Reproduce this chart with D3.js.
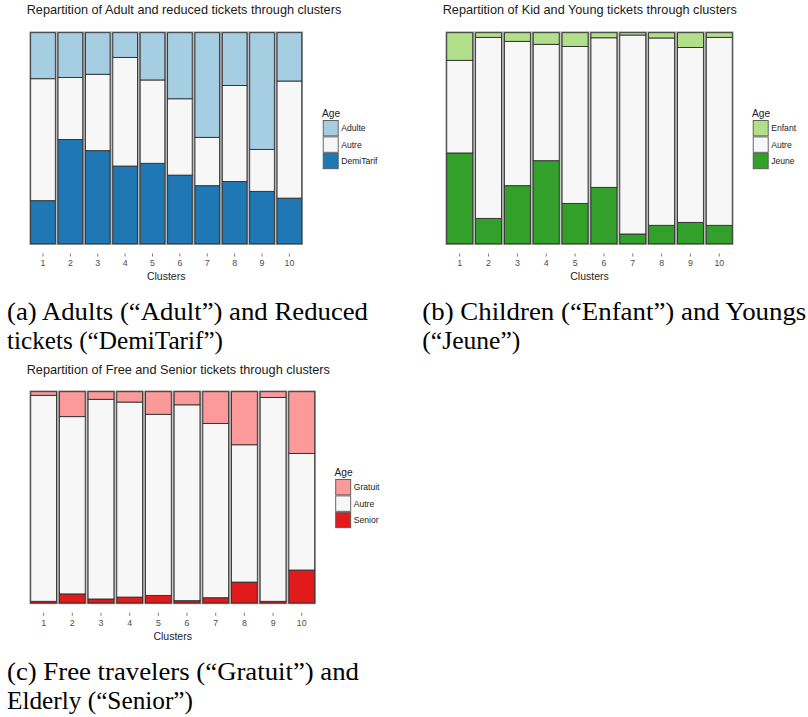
<!DOCTYPE html>
<html>
<head>
<meta charset="utf-8">
<script src="https://cdn.jsdelivr.net/npm/d3@7"></script>
<style>
  body { margin: 0; background: #fff; }
  svg { display: block; }
</style>
</head>
<body>
<svg id="chart" width="808" height="717"></svg>
<script>
// clusters on the x axis
var clusters = ["1", "2", "3", "4", "5", "6", "7", "8", "9", "10"];

// (a) adults / reduced tickets, share in %
var adulte    = [21.8, 21.2, 19.7, 11.7, 22.4, 31.3, 49.6, 25.0, 55.3, 22.9];
var autreA    = [57.8, 29.4, 36.2, 51.5, 39.5, 36.2, 22.9, 45.5, 19.9, 55.5];
var demiTarif = [20.4, 49.4, 44.1, 36.8, 38.1, 32.5, 27.5, 29.5, 24.8, 21.6];

// (b) kids / young
var enfant = [13.1, 2.2, 4.1, 5.5, 6.5, 2.4, 1.1, 2.5, 7.0, 2.2];
var autreB = [43.9, 85.8, 68.4, 55.1, 74.4, 70.9, 94.3, 88.8, 82.9, 89.1];
var jeune  = [43.0, 12.0, 27.5, 39.3, 19.1, 26.7, 4.6, 8.7, 10.1, 8.7];

// (c) free / senior
var gratuit = [1.7, 11.8, 3.6, 4.9, 10.7, 6.2, 15.0, 25.1, 2.7, 29.2];
var autreC  = [97.5, 83.9, 94.5, 92.3, 85.6, 92.7, 82.5, 65.0, 96.5, 55.2];
var senior  = [0.8, 4.3, 1.9, 2.8, 3.6, 1.1, 2.5, 9.9, 0.8, 15.6];

var svg = d3.select("#chart");

var panels = [
    {
        title: "Repartition of Adult and reduced tickets through clusters",
        keys: ["DemiTarif", "Autre", "Adulte"],
        series: [demiTarif, autreA, adulte],
        colors: ["#1f78b4", "#f7f7f7", "#a6cee3"],
        x0: 29.3, x1: 303.1, top: 32.7, bottom: 243.7,
        titleX: 26.7, titleY: 14, legX: 322, legY: 116.5, keyY: 120.5
    },
    {
        title: "Repartition of Kid and Young tickets through clusters",
        keys: ["Jeune", "Autre", "Enfant"],
        series: [jeune, autreB, enfant],
        colors: ["#33a02c", "#f7f7f7", "#b2df8a"],
        x0: 445.3, x1: 733.7, top: 32.7, bottom: 243.7,
        titleX: 442.7, titleY: 14, legX: 752, legY: 116.5, keyY: 120.5
    },
    {
        title: "Repartition of Free and Senior tickets through clusters",
        keys: ["Senior", "Autre", "Gratuit"],
        series: [senior, autreC, gratuit],
        colors: ["#e31a1c", "#f7f7f7", "#fb9a99"],
        x0: 29.3, x1: 316.1, top: 391.7, bottom: 603,
        titleX: 26.7, titleY: 373.5, legX: 334.5, legY: 475.5, keyY: 479.5
    }
];

panels.forEach(drawPanel);

function drawPanel(p) {
    var g = svg.append("g");

    // rows for d3.stack
    var rows = clusters.map(function (c, i) {
        var r = { cluster: c };
        p.keys.forEach(function (k, j) { r[k] = p.series[j][i]; });
        return r;
    });

    var stack = d3.stack().keys(p.keys).offset(d3.stackOffsetExpand);
    var layers = stack(rows);

    var x = d3.scaleBand().domain(clusters)
        .range([p.x0, p.x1])
        .paddingInner(0.1).paddingOuter(0.05);
    var y = d3.scaleLinear().domain([0, 1]).range([p.bottom, p.top]);
    var color = d3.scaleOrdinal().domain(p.keys).range(p.colors);

    g.append("text")
        .attr("x", p.titleX).attr("y", p.titleY)
        .style("font", "12.7px 'Liberation Sans', Arial, sans-serif")
        .style("fill", "#1a1a1a")
        .text(p.title);

    // outer grey outline of each bar
    g.append("g").selectAll("rect")
        .data(clusters).enter().append("rect")
        .attr("x", function (d) { return x(d) - 0.6; })
        .attr("y", p.top - 0.6)
        .attr("width", x.bandwidth() + 1.2)
        .attr("height", p.bottom - p.top + 1.2)
        .attr("fill", "none")
        .attr("stroke", "#8c8c8c")
        .attr("stroke-width", 1.2);

    g.append("g").selectAll("g")
        .data(layers).enter().append("g")
        .attr("fill", function (d) { return color(d.key); })
        .selectAll("rect")
        .data(function (d) { return d; }).enter().append("rect")
        .attr("x", function (d) { return x(d.data.cluster); })
        .attr("y", function (d) { return y(d[1]); })
        .attr("width", x.bandwidth())
        .attr("height", function (d) { return y(d[0]) - y(d[1]); })
        .attr("stroke", "#2e2e2e")
        .attr("stroke-width", 0.9);

    // x axis
    var axis = g.append("g")
        .attr("transform", "translate(0," + (p.bottom + 9.8) + ")")
        .call(d3.axisBottom(x).tickSize(3).tickPadding(3.5));
    axis.select(".domain").remove();
    axis.selectAll(".tick line").attr("stroke", "#7a7a7a");
    axis.selectAll(".tick text")
        .style("font", "8.8px 'Liberation Sans', Arial, sans-serif")
        .style("fill", "#4d4d4d");

    g.append("text")
        .attr("x", (p.x0 + p.x1) / 2).attr("y", p.bottom + 36.5)
        .attr("text-anchor", "middle")
        .style("font", "10.5px 'Liberation Sans', Arial, sans-serif")
        .style("fill", "#222")
        .text("Clusters");

    // legend, top layer first
    var leg = g.append("g");
    leg.append("text")
        .attr("x", p.legX).attr("y", p.legY)
        .style("font", "10.2px 'Liberation Sans', Arial, sans-serif")
        .style("fill", "#222")
        .text("Age");

    var items = leg.selectAll(".legend")
        .data(p.keys.slice().reverse()).enter().append("g")
        .attr("class", "legend")
        .attr("transform", function (d, i) {
            return "translate(" + (p.legX + 1.2) + "," + (p.keyY + i * 16.4) + ")";
        });
    items.append("rect")
        .attr("width", 15).attr("height", 15.4)
        .attr("fill", function (d) { return color(d); })
        .attr("stroke", "#555")
        .attr("stroke-width", 0.9);
    items.append("text")
        .attr("x", 18).attr("y", 7.7).attr("dy", "0.35em")
        .style("font", "8.6px 'Liberation Sans', Arial, sans-serif")
        .style("fill", "#222")
        .text(function (d) { return d; });
}

// sub-figure captions
var captions = [
    { x: 7, y: 319.5, w: 361, text: "(a) Adults (\u201cAdult\u201d) and Reduced" },
    { x: 7, y: 348.5, w: 216, text: "tickets (\u201cDemiTarif\u201d)" },
    { x: 422.3, y: 319.5, w: 384, text: "(b) Children (\u201cEnfant\u201d) and Youngs" },
    { x: 422.3, y: 348.5, w: 98, text: "(\u201cJeune\u201d)" },
    { x: 7, y: 679.5, w: 352, text: "(c) Free travelers (\u201cGratuit\u201d) and" },
    { x: 7, y: 708.5, w: 186, text: "Elderly (\u201cSenior\u201d)" }
];

svg.append("g").selectAll("text")
    .data(captions).enter().append("text")
    .attr("x", function (d) { return d.x; })
    .attr("y", function (d) { return d.y; })
    .attr("textLength", function (d) { return d.w; })
    .attr("lengthAdjust", "spacingAndGlyphs")
    .style("font", "25px 'Liberation Serif', 'DejaVu Serif', serif")
    .style("fill", "#000")
    .text(function (d) { return d.text; });
</script>
</body>
</html>
